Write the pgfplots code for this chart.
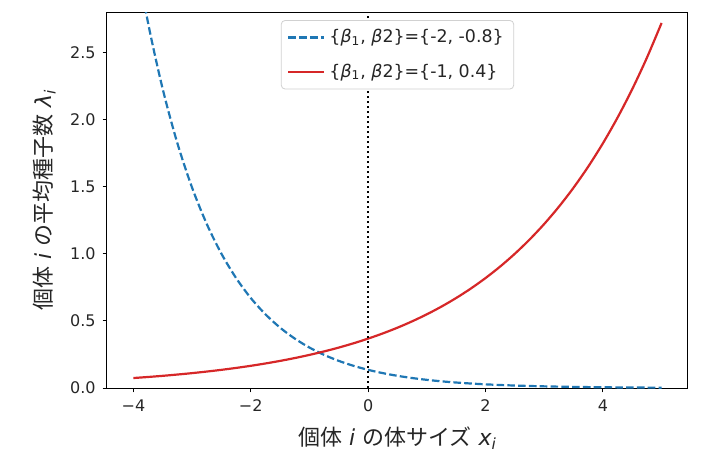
\documentclass[border=0pt]{standalone}
\usepackage{fontspec}
\setmainfont{DejaVu Sans}
\newfontfamily\cjk{Noto Sans CJK JP}
\usepackage{pgfplots}
\pgfplotsset{compat=1.18}
\definecolor{mplblue}{HTML}{1F77B4}
\definecolor{mplred}{HTML}{D62728}
\begin{document}
\begin{tikzpicture}
\useasboundingbox (-53.5pt,-37.5pt) rectangle (303.5pt,194pt);
\begin{axis}[
  scale only axis, width=290.5pt, height=188pt,
  at={(0pt,0pt)}, anchor=south west,
  xmin=-4.45, xmax=5.45, ymin=0, ymax=2.8,
  xtick={-4,-2,0,2,4}, xticklabels={−4,−2,0,2,4},
  ytick={0,0.5,1,1.5,2,2.5}, yticklabels={0.0,0.5,1.0,1.5,2.0,2.5},
  xtick pos=bottom, ytick pos=left,
  tick align=outside, major tick length=2.2pt,
  tick style={black, line width=0.5pt},
  axis line style={black, line width=0.5pt},
  tick label style={font=\fontsize{8}{9.6}\selectfont, text=black!85},
  xlabel={{\cjk 個体} {\itshape i} {\cjk の体サイズ} {\itshape x}\textsubscript{\itshape i}},
  ylabel={{\cjk 個体} {\itshape i} {\cjk の平均種子数} {\itshape λ}\textsubscript{\itshape i}},
  label style={font=\fontsize{11}{13}\selectfont, text=black!85},
  xlabel style={at={(axis description cs:0.5,-0.133)}, anchor=center},
  ylabel style={at={(axis description cs:-0.108,0.5)}, anchor=center, rotate=0},
  legend style={at={(axis description cs:0.5,1)}, yshift=-4pt, anchor=north,
    draw=black!18, rounded corners=2pt, font=\fontsize{8.7}{10}\selectfont,
    inner xsep=3pt, inner ysep=2.5pt, row sep=5pt, text=black!85},
  legend cell align=left,
  legend image code/.code={\draw[#1] (0pt,0pt) -- (18pt,0pt);},
]
\addplot[mplblue, line width=1.1pt, dash pattern=on 3.8pt off 1.6pt, smooth] coordinates {
(-4,3.3201) (-3.75,2.7183) (-3.5,2.2255) (-3.25,1.8221) (-3,1.4918) (-2.75,1.2214)
(-2.5,1.0) (-2.25,0.8187) (-2,0.6703) (-1.75,0.5488) (-1.5,0.4493) (-1.25,0.3679)
(-1,0.3012) (-0.75,0.2466) (-0.5,0.2019) (-0.25,0.1653) (0,0.1353) (0.25,0.1108)
(0.5,0.0907) (0.75,0.0743) (1,0.0608) (1.25,0.0498) (1.5,0.0408) (1.75,0.0334)
(2,0.0273) (2.25,0.0224) (2.5,0.0183) (2.75,0.0150) (3,0.0123) (3.25,0.0101)
(3.5,0.0082) (3.75,0.0067) (4,0.0055) (4.25,0.0045) (4.5,0.0037) (4.75,0.0030) (5,0.0025)
};
\addlegendentry{\{{\itshape β}\textsubscript{1}, {\itshape β}2\}=\{-2, -0.8\}}
\addplot[mplred, line width=1.1pt, smooth] coordinates {
(-4,0.0743) (-3.75,0.0821) (-3.5,0.0907) (-3.25,0.1003) (-3,0.1108) (-2.75,0.1225)
(-2.5,0.1353) (-2.25,0.1496) (-2,0.1653) (-1.75,0.1827) (-1.5,0.2019) (-1.25,0.2231)
(-1,0.2466) (-0.75,0.2725) (-0.5,0.3012) (-0.25,0.3329) (0,0.3679) (0.25,0.4066)
(0.5,0.4493) (0.75,0.4966) (1,0.5488) (1.25,0.6065) (1.5,0.6703) (1.75,0.7408)
(2,0.8187) (2.25,0.9048) (2.5,1.0) (2.75,1.1052) (3,1.2214) (3.25,1.3499)
(3.5,1.4918) (3.75,1.6487) (4,1.8221) (4.25,2.0138) (4.5,2.2255) (4.75,2.4596) (5,2.7183)
};
\addlegendentry{\{{\itshape β}\textsubscript{1}, {\itshape β}2\}=\{-1, 0.4\}}
\addplot[black, line width=0.95pt, dash pattern=on 0.95pt off 1.55pt, forget plot] coordinates {(0,0) (0,2.8)};
\end{axis}
\end{tikzpicture}
\end{document}
